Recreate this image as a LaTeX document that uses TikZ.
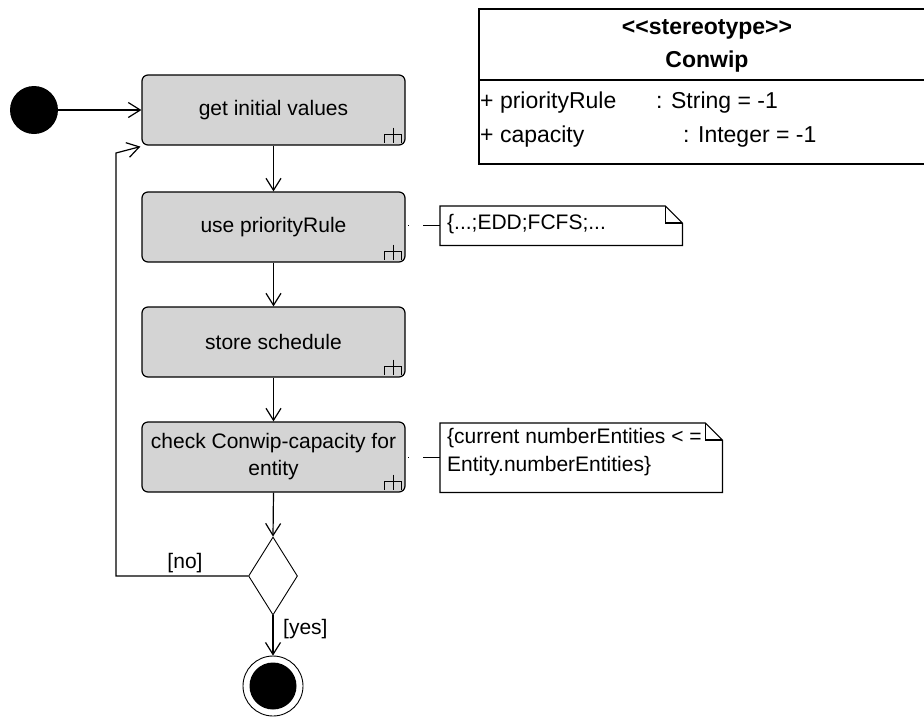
\documentclass[tikz,border=0pt]{standalone}
\usepackage{fontspec}
\setmainfont{Liberation Sans}
\usetikzlibrary{arrows.meta,shapes.geometric}
\definecolor{actgray}{RGB}{212,212,212}
\newcommand{\rakeicon}[1]{%
  \draw[line width=1.3pt] ([shift={(-12,-18)}]#1.south east) -- ([shift={(-12,-3)}]#1.south east);
  \draw[line width=1.3pt] ([shift={(-21,-3)}]#1.south east) -- ([shift={(-21,-11)}]#1.south east)
     -- ([shift={(-4,-11)}]#1.south east) -- ([shift={(-4,-3)}]#1.south east);}
\begin{document}
\begin{tikzpicture}[x=1pt,y=-1pt,
  act/.style={draw, line width=1.2pt, rounded corners=6pt, fill=actgray,
    minimum width=263pt, minimum height=70pt, inner sep=0pt,
    font=\fontsize{21}{27}\selectfont, align=center},
  flow/.style={line width=1.2pt, -{Straight Barb[length=12pt,width=15pt,line width=1.2pt]}},
  notelink/.style={line width=1.2pt, dash pattern={on 0pt off 2.5pt on 1.3pt off 14pt on 20pt}},
  txt/.style={inner sep=0pt, font=\fontsize{21}{28}\selectfont},
  ctxt/.style={inner sep=0pt, font=\fontsize{23}{28}\selectfont},
  btxt/.style={inner sep=0pt, font=\fontsize{23}{28}\selectfont\bfseries},
  notebox/.style={minimum width=#1, minimum height=39pt, inner sep=0pt, anchor=north west}
]
\useasboundingbox (0,0) rectangle (924,716);
\clip (0,0) rectangle (924,716);

% activity nodes
\node[act] (b1) at (273.5,110) {get initial values};
\node[act] (b2) at (273.5,227) {use priorityRule};
\node[act] (b3) at (273.5,342) {store schedule};
\node[act] (b4) at (273.5,457) {check Conwip-capacity for\\entity};
\rakeicon{b1}
\rakeicon{b2}
\rakeicon{b3}
\rakeicon{b4}

% start / end / decision
\node[circle, fill=black, minimum size=48pt, inner sep=0pt] (start) at (34,110) {};
\node[diamond, draw, line width=0.9pt, minimum width=49pt, minimum height=78pt, inner sep=0pt] (dec) at (273,576) {};
\node[circle, draw, line width=0.9pt, minimum size=60pt, inner sep=0pt] (final) at (273,686) {};
\node[circle, fill=black, minimum size=47pt, inner sep=0pt] (finalin) at (final.center) {};

% flows
\draw[flow] (start.east) -- (b1.west);
\draw[flow] (b1.south) -- (b2.north);
\draw[flow] (b2.south) -- (b3.north);
\draw[flow] (b3.south) -- (b4.north);
\draw[flow] (b4.south) -- (dec.north);
\draw[flow] (dec.south) -- (final.north);
\coordinate (lt) at (116,153);
\draw[flow] (dec.west) -- (dec.west -| lt) -- (lt) -- ([shift={(-1,1)}]b1.south west);
\node[txt] (no) at (185,563) {[no]};
\node[txt, anchor=west] (yes) at (283,629) {[yes]};

% notes
\node[notebox=242pt] (n1) at (440,206) {};
\draw[line width=1.2pt] (n1.north west) -- ([xshift=-17pt]n1.north east) -- ([yshift=-17pt]n1.north east)
  -- (n1.south east) -- (n1.south west) -- cycle;
\draw[line width=1.2pt] ([xshift=-17pt]n1.north east) -- ([shift={(-17,17)}]n1.north east) -- ([yshift=-17pt]n1.north east);
\node[txt, anchor=west] (n1t) at (447,224) {\{...;EDD;FCFS;...};
\draw[notelink] (n1.west -| b2.east) -- (n1.west);

\node[notebox=282pt, minimum height=69pt] (n2) at (440,423) {};
\draw[line width=1.2pt] (n2.north west) -- ([xshift=-17pt]n2.north east) -- ([yshift=-17pt]n2.north east)
  -- (n2.south east) -- (n2.south west) -- cycle;
\draw[line width=1.2pt] ([xshift=-17pt]n2.north east) -- ([shift={(-17,17)}]n2.north east) -- ([yshift=-17pt]n2.north east);
\node[txt, anchor=north west, align=left] (n2t) at (447,428) {\{current numberEntities {<} =\\Entity.numberEntities\}};
\draw[notelink] (n2.west -| b4.east) -- (n2.west);

% class box
\node[draw, line width=2pt, minimum width=470pt, minimum height=155pt, anchor=north west, inner sep=0pt] (cls) at (478,8) {};
\draw[line width=2pt] (478,80) -- (950,80);
\node[btxt] (st) at (707,29) {\textless{}\textless{}stereotype\textgreater{}\textgreater{}};
\node[btxt] (cn) at (707,62) {Conwip};
\node[ctxt, anchor=west] (a1) at (480,103) {+ priorityRule};
\node[ctxt, anchor=west] (a1t) at (656,103) {: String = -1};
\node[ctxt, anchor=west] (a2) at (480,137) {+ capacity};
\node[ctxt, anchor=west] (a2t) at (683,137) {: Integer = -1};
\end{tikzpicture}
\end{document}
